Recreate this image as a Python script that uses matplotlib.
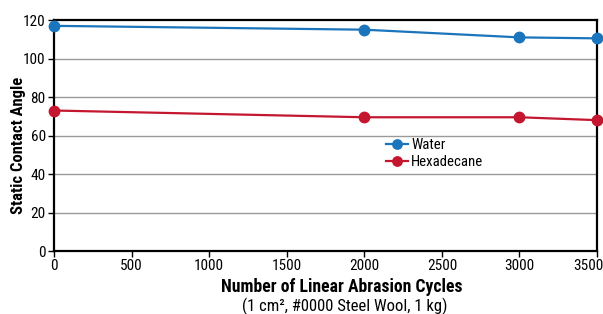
import matplotlib
matplotlib.use("Agg")
import matplotlib.pyplot as plt
from matplotlib import font_manager
from matplotlib.transforms import ScaledTranslation

cycles = [0, 2000, 3000, 3500]
water = [117, 115, 111, 110.5]
hexadecane = [73, 69.5, 69.5, 68]
xticks = [0, 500, 1000, 1500, 2000, 2500, 3000, 3500]
yticks = [0, 20, 40, 60, 80, 100, 120]

names = {f.name for f in font_manager.fontManager.ttflist}
prefs = ["Liberation Sans Narrow", "Nimbus Sans Narrow", "Roboto Condensed", "Archivo Narrow",
         "PT Sans Narrow", "Open Sans Condensed", "Asap Condensed", "Barlow Semi Condensed"]
fam = next((p for p in prefs if p in names), "Liberation Sans")
plt.rcParams['font.family'] = [fam, 'DejaVu Sans']

blue = "#1b75bc"
red = "#c4172f"

fig = plt.figure(figsize=(6.03, 3.14), dpi=100)
ax = fig.add_axes([0.0896, 0.2006, 0.9005, 0.7355])

for v in yticks[1:-1]:
    ax.axhline(v, color="#9a9a9a", lw=1.0, zorder=1)

ax.plot(cycles, water, color=blue, marker="o", ms=7.5, lw=1.6, label="Water", zorder=3, clip_on=False)
ax.plot(cycles, hexadecane, color=red, marker="o", ms=7.5, lw=1.6, label="Hexadecane", zorder=3, clip_on=False)

ax.set_xlim(0, 3500)
ax.set_ylim(0, 120)
ax.set_xticks(xticks)
ax.set_yticks(yticks)
ax.tick_params(labelsize=11, length=4, width=1, direction="out", pad=2)
for s in ax.spines.values():
    s.set_linewidth(1.6)
    s.set_color("black")

last = ax.get_xticklabels()[-1]
last.set_transform(last.get_transform() + ScaledTranslation(-9 / 100, 0, fig.dpi_scale_trans))

ax.set_ylabel("Static Contact Angle", fontsize=12, fontweight="bold")
ax.yaxis.set_label_coords(-0.052, 0.459)
ax.set_xlabel("Number of Linear Abrasion Cycles", fontsize=12.7, fontweight="bold")
ax.xaxis.set_label_coords(0.530, -0.115)
fig.text(0.572, 0.010, "(1 cm², #0000 Steel Wool, 1 kg)", ha="center", va="baseline", fontsize=12)

leg = ax.legend(loc="upper left", bbox_to_anchor=(0.612, 0.49), frameon=False, fontsize=10.6,
                handlelength=1.5, handletextpad=0.2, labelspacing=0.22, borderpad=0,
                borderaxespad=0, markerscale=0.9)

fig.savefig("out.png", dpi=100)
